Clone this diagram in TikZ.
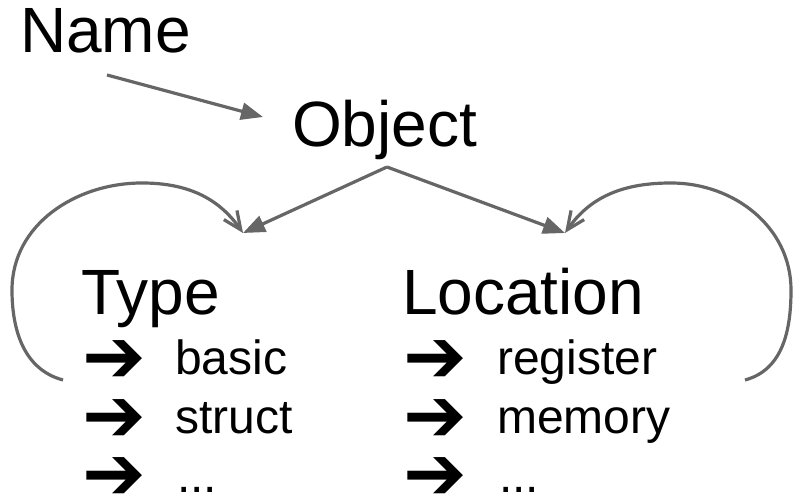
\documentclass[tikz,border=0pt]{standalone}
\usepackage{fontspec}
\setmainfont{Liberation Sans}
\newfontfamily\symfont{DejaVu Sans}
\usetikzlibrary{arrows.meta}
\definecolor{conn}{HTML}{666666}
% heavy bullet arrow, kept from widening the line box
\newcommand\bularrow{\smash{\symfont\bfseries\fontsize{76}{76}\selectfont ➔}}
\tikzset{
  x=1pt, y=1pt,
  big/.style={inner sep=0pt, anchor=base west, font=\fontsize{64}{64}\selectfont},
  item/.style={inner sep=0pt, anchor=base west, font=\fontsize{48}{48}\selectfont},
  bullet/.style={inner sep=0pt, anchor=base west},
  link/.style={draw=conn, line width=3.2pt, -{Triangle[length=22pt,width=17pt]}},
  loop/.style={draw=conn, line width=3.2pt, -{Straight Barb[length=18pt,width=16pt]}},
}
\begin{document}
\begin{tikzpicture}
\useasboundingbox (0,0) rectangle (794,494);

% headings
\node[big] (name) at (20,441) {Name};
\node[big] (object) at (292,347) {Object};
\node[big] (type) at (81,179) {Type};
\node[big] (location) at (402,179) {Location};

% type variants
\node[bullet] (tb1) at (82,111) {\bularrow};
\node[item]   (t1)  at (175,119) {basic};
\node[bullet] (tb2) at (82,52.5) {\bularrow};
\node[item]   (t2)  at (175,60.5) {struct};
\node[bullet] (tb3) at (82,-6) {\bularrow};
\node[item]   (t3)  at (177,1) {...};

% location variants
\node[bullet] (lb1) at (403,111) {\bularrow};
\node[item]   (l1)  at (497,119) {register};
\node[bullet] (lb2) at (403,52.5) {\bularrow};
\node[item]   (l2)  at (497,60.5) {memory};
\node[bullet] (lb3) at (403,-6) {\bularrow};
\node[item]   (l3)  at (499,1) {...};

% connector ends
\coordinate (nameout) at (107,419);
\coordinate (objin) at (263,377);
\coordinate (objout) at (387,327);
\coordinate (typein) at (243,261);
\coordinate (locin) at (565,261);
\coordinate (typeloop) at (63,114);
\coordinate (locloop) at (745,114);

\draw[link] (nameout) -- (objin);
\draw[link] (objout) -- (typein);
\draw[link] (objout) -- (locin);

% self references
\draw[loop] (typeloop) to[out=165,in=270] (12,204) to[out=90,in=180] (142,311) to[out=0,in=125] (typein);
\draw[loop] (locloop) to[out=15,in=270] (791,204) to[out=90,in=0] (671,311) to[out=180,in=55] (locin);
\end{tikzpicture}
\end{document}
